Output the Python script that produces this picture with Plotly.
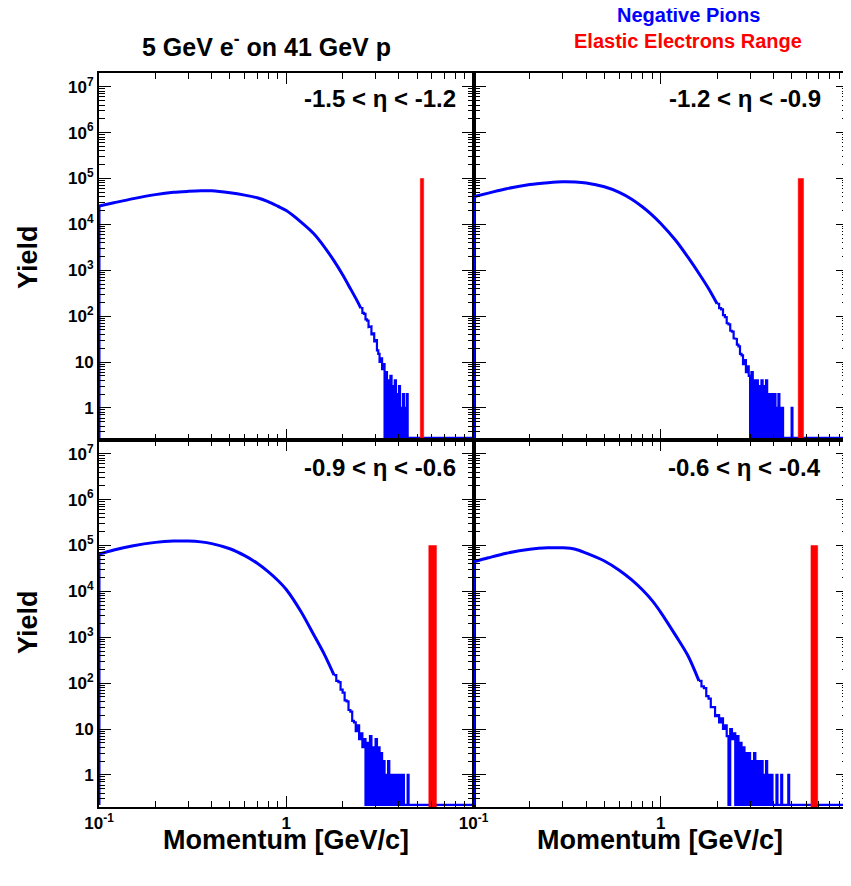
import plotly.graph_objects as go

# ---------------- data ----------------
PANEL_LABELS = ["-1.5 < \u03b7 < -1.2", "-1.2 < \u03b7 < -0.9",
                "-0.9 < \u03b7 < -0.6", "-0.6 < \u03b7 < -0.4"]

# smooth part of the negative-pion momentum spectra
tl_p = [0.10, 0.12, 0.15, 0.20, 0.25, 0.30, 0.35, 0.40, 0.50, 0.60, 0.70, 0.80, 0.90,
        1.00, 1.20, 1.40, 1.60, 1.80, 2.00, 2.20, 2.40, 2.50]
tl_y = [25000, 29500, 36000, 44500, 50000, 52500, 54000, 54000, 49000, 43500, 38000,
        31500, 25000, 20000, 11200, 6300, 3200, 1600, 800, 400, 210, 150]

tr_p = [0.10, 0.12, 0.15, 0.20, 0.25, 0.30, 0.35, 0.40, 0.50, 0.60, 0.70, 0.80, 0.90,
        1.00, 1.20, 1.40, 1.60, 1.80, 2.00]
tr_y = [40000, 48000, 60000, 74000, 81000, 85000, 84000, 80000, 66000, 50000, 35500,
        24000, 16000, 10500, 4500, 1900, 850, 400, 186]

bl_p = [0.10, 0.12, 0.15, 0.20, 0.25, 0.30, 0.35, 0.40, 0.50, 0.60, 0.70, 0.80, 0.90,
        1.00, 1.20, 1.40, 1.60, 1.80]
bl_y = [65000, 80000, 98000, 117000, 125000, 125000, 120000, 110000, 85000, 60000,
        41000, 27000, 17500, 11000, 3600, 1150, 420, 150]

br_p = [0.10, 0.12, 0.15, 0.20, 0.25, 0.30, 0.35, 0.40, 0.50, 0.60, 0.70, 0.80, 0.90,
        1.00, 1.20, 1.40, 1.60]
br_y = [44000, 54000, 68000, 83000, 89000, 89000, 83000, 68000, 46000, 29000, 17800,
        10700, 6300, 3500, 1100, 390, 112]

# fluctuating tails: histogram bins (start momentum, bin width, counts per bin)
tl_tail_start, tl_tail_width = 2.50, 0.05
tl_tail = [150, 118, 112, 85, 80, 58, 60, 40, 42, 28, 30, 18,
           15, 10, 12, 7, 9, 0, 6, 0, 4, 0, 5, 0, 3, 0, 4, 0, 2, 0, 3, 0, 1, 0, 2, 0,
           1, 0, 2]

tr_tail_start, tr_tail_width = 2.00, 0.05
tr_tail = [186, 150, 140, 105, 95, 70, 66, 48, 46, 33, 32, 24,
           22, 15, 14, 9, 11, 6, 8, 5, 0, 6, 0, 4, 0, 4, 0, 3, 0, 4, 0, 3, 0, 4, 0, 2,
           0, 2, 0, 2, 0, 2, 0, 1, 0, 2, 0, 1, 0, 1, 0, 0, 0, 0, 0, 0, 0, 0, 0, 0, 1]

bl_tail_start, bl_tail_width = 1.80, 0.05
bl_tail = [150, 112, 105, 72, 62, 42, 40, 26, 24, 15,
           14, 9, 12, 6, 8, 4, 6, 0, 5, 0, 7, 0, 4, 0, 6, 0, 4, 0, 3, 0, 2, 0, 1, 0,
           2, 0, 1, 0, 1, 0, 1, 0, 1, 0, 1, 0, 1, 0, 1, 0, 0, 0, 0, 1]

br_tail_start, br_tail_width = 1.60, 0.05
br_tail = [112, 85, 78, 52, 46, 30, 30, 19,
           20, 14, 17, 10, 12, 7, 0, 10, 6, 8, 0, 7, 0, 5, 0, 4, 0, 3, 0, 3, 0, 2, 0,
           3, 0, 2, 0, 2, 0, 2, 0, 1, 0, 2, 0, 1, 0, 0, 1, 0, 0, 0, 0, 1, 0, 0, 0, 0,
           1, 0, 0, 0, 0, 0, 0, 0, 1]

# elastic electron momentum ranges (GeV/c) and drawn height
elastic_lo = [5.20, 5.42, 5.77, 6.34]
elastic_hi = [5.42, 5.79, 6.34, 6.89]
elastic_height = 1e5

P_MAX = 10.0
# ----------------------------------------------------------------

# the page body keeps its default 8px margin, so the figure is drawn 8px in
OFF = 8
W, H = 851 - OFF, 886 - OFF
# plot area in page pixels: x 99..848, y 73..807
L, R, T, B = 99 - OFF, 851 - 848, 73 - OFF, 886 - 807
PW = W - L - R
PH = H - T - B
FONT = "Liberation Sans, Arial, Helvetica, sans-serif"
BLUE = "#0000ff"
RED = "#ff0000"
FLOOR = 10 ** (-0.655)  # zero-count bins drawn along the bottom frame
LW = 3


def px2x(px):  # page pixel -> paper
    return (px - OFF - L) / PW


def py2y(py):
    return (H - B - (py - OFF)) / PH


smooth = [(tl_p, tl_y), (tr_p, tr_y), (bl_p, bl_y), (br_p, br_y)]
tails = [(tl_tail_start, tl_tail_width, tl_tail), (tr_tail_start, tr_tail_width, tr_tail),
         (bl_tail_start, bl_tail_width, bl_tail), (br_tail_start, br_tail_width, br_tail)]

fig = go.Figure()

for i in range(4):
    xa = "x" if i == 0 else f"x{i+1}"
    ya = "y" if i == 0 else f"y{i+1}"
    sp, sy = smooth[i]
    t0, tw, tc = tails[i]
    common = dict(mode="lines", xaxis=xa, yaxis=ya, showlegend=False, hoverinfo="skip")
    # left edge: histogram rises from zero at the frame
    fig.add_trace(go.Scatter(x=[sp[0], sp[0]], y=[FLOOR, sy[0]],
                             line=dict(color=BLUE, width=LW), **common))
    # smooth body
    fig.add_trace(go.Scatter(x=list(sp), y=list(sy),
                             line=dict(color=BLUE, width=LW, shape="spline", smoothing=0.8),
                             **common))
    # fluctuating tail as histogram steps
    xs, ys = [], []
    for k, c in enumerate(tc):
        xs += [t0 + k * tw, t0 + (k + 1) * tw]
        ys += [c, c]
    xs += [t0 + len(tc) * tw, P_MAX]
    ys += [0, 0]
    ys = [v if v > 0 else FLOOR for v in ys]
    fig.add_trace(go.Scatter(x=xs, y=ys, line=dict(color=BLUE, width=2.2), **common))
    lo, hi = elastic_lo[i], elastic_hi[i]
    fig.add_trace(go.Scatter(x=[lo, lo, hi, hi, lo],
                             y=[FLOOR / 10, elastic_height, elastic_height, FLOOR / 10, FLOOR / 10],
                             fill="toself", fillcolor=RED,
                             line=dict(color=RED, width=0.5), **common))

xminor = [m * 10 ** e for e in (-1, 0) for m in range(2, 10)]
yminor = [m * 10 ** e for e in range(-1, 8) for m in range(2, 10)]
ytv = [10 ** e for e in range(0, 8)]
ytt = ["1", "10"] + [f"10<sup>{e}</sup>" for e in range(2, 8)]

tickfont = dict(family=FONT, size=17, color="black", weight="bold")

for i in range(4):
    col = i % 2
    row = i // 2
    xk = "xaxis" if i == 0 else f"xaxis{i+1}"
    yk = "yaxis" if i == 0 else f"yaxis{i+1}"
    ya = "y" if i == 0 else f"y{i+1}"
    xa = "x" if i == 0 else f"x{i+1}"
    xdom = [0, 0.5] if col == 0 else [0.5, 1]
    ydom = [0.5, 1] if row == 0 else [0, 0.5]
    xtt = ["10<sup>-1</sup>", "1", ""] if col == 0 else ["10<sup>-1</sup>", "1", "10"]
    fig.layout[xk] = dict(
        domain=xdom, anchor=ya, type="log", range=[-1, 1], automargin=False,
        showline=True, linecolor="black", linewidth=2, mirror="ticks",
        ticks="inside", ticklen=11, tickwidth=1.3, tickcolor="black",
        tickmode="array", tickvals=[0.1, 1, 10], ticktext=xtt,
        showticklabels=(row == 1), tickfont=tickfont,
        showgrid=False, zeroline=False, fixedrange=True,
        minor=dict(ticks="inside", ticklen=6, tickwidth=1, tickcolor="black",
                   tickmode="array", tickvals=xminor, showgrid=False),
    )
    fig.layout[yk] = dict(
        domain=ydom, anchor=xa, type="log", range=[-0.7, 7.3], automargin=False,
        showline=True, linecolor="black", linewidth=2, mirror="ticks",
        ticks="inside", ticklen=12, tickwidth=1.3, tickcolor="black",
        tickmode="array", tickvals=ytv, ticktext=ytt,
        showticklabels=(col == 0), tickfont=tickfont,
        showgrid=False, zeroline=False, fixedrange=True,
        minor=dict(ticks="inside", ticklen=6, tickwidth=1, tickcolor="black",
                   tickmode="array", tickvals=yminor, showgrid=False),
    )

ann = []


def add_text(text, px, py, size, color="black", xanchor="center", angle=0):
    ann.append(dict(text=text, x=px2x(px), y=py2y(py), xref="paper", yref="paper",
                    xanchor=xanchor, yanchor="middle", showarrow=False, textangle=angle,
                    font=dict(family=FONT, size=size, color=color, weight="bold")))


add_text("5 GeV e<sup>-</sup> on 41 GeV p", 266, 45, 25)
add_text("Negative Pions", 688, 15, 20, BLUE)
add_text("Elastic Electrons Range", 688, 41, 20, RED)
add_text(PANEL_LABELS[0], 458, 98, 24, xanchor="right")
add_text(PANEL_LABELS[1], 823, 98, 24, xanchor="right")
add_text(PANEL_LABELS[2], 458, 467, 24, xanchor="right")
add_text(PANEL_LABELS[3], 823, 467, 24, xanchor="right")
add_text("Yield", 28, 257, 27, angle=-90)
add_text("Yield", 28, 622, 27, angle=-90)
add_text("Momentum [GeV/c]", 286, 840, 27)
add_text("Momentum [GeV/c]", 660, 840, 27)

fig.update_layout(
    width=W, height=H, margin=dict(l=L, r=R, t=T, b=B, pad=0, autoexpand=False),
    paper_bgcolor="white", plot_bgcolor="white", showlegend=False,
    annotations=ann, font=dict(family=FONT),
)

fig.write_html("out.html")
